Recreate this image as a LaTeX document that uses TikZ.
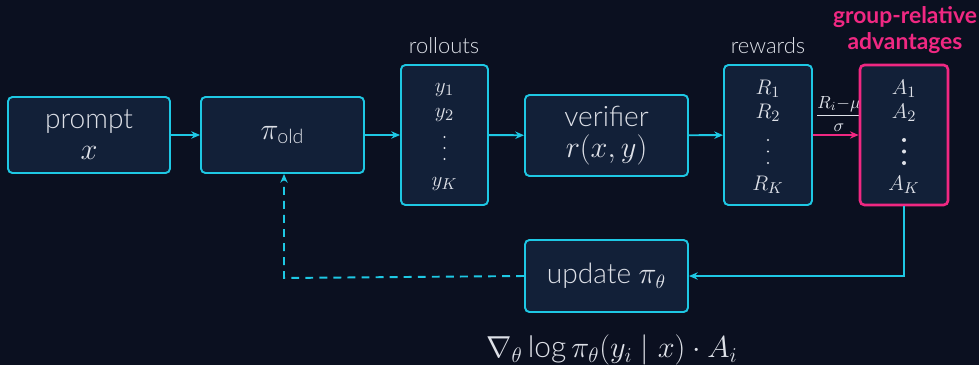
\documentclass[tikz,border=0pt]{standalone}
\usepackage{amsmath}
\usepackage{fontspec}
\setmainfont{Lato Light}[BoldFont=Lato Bold]
\usetikzlibrary{arrows.meta}
\definecolor{bgnavy}{RGB}{11,16,32}
\definecolor{boxfill}{RGB}{18,32,56}
\definecolor{cyanline}{RGB}{30,200,228}
\definecolor{pinkline}{RGB}{240,40,130}
\definecolor{txt}{RGB}{222,225,232}
\tikzset{
  flowbox/.style={draw=cyanline, fill=boxfill, line width=1.1pt, rounded corners=2.5pt,
    inner sep=0pt, align=center, text=txt},
  advbox/.style={flowbox, draw=pinkline, line width=1.5pt},
  bigtxt/.style={font=\fontsize{16}{17.6}\selectfont},
  item/.style={text=txt, font=\fontsize{13}{14}\selectfont, anchor=base, inner sep=0pt},
  captxt/.style={text=txt, font=\fontsize{12.5}{14}\selectfont},
  flow/.style={draw=cyanline, line width=1.1pt, -{Stealth[length=5pt,width=4.2pt]}},
}
\begin{document}
\begin{tikzpicture}[x=0.02cm, y=-0.02cm]
  \fill[bgnavy] (0,0) rectangle (979,365);
  \useasboundingbox (0,0) rectangle (979,365);

  % pipeline boxes
  \node[flowbox, bigtxt, minimum width=3.24cm, minimum height=1.52cm] (prompt) at (89,135)
    {prompt\\$x$};
  \node[flowbox, bigtxt, minimum width=3.26cm, minimum height=1.52cm] (piold) at (282.5,135)
    {$\pi_{\text{old}}$};
  \node[flowbox, minimum width=1.74cm, minimum height=2.8cm] (roll) at (444.5,135) {};
  \node[flowbox, bigtxt, minimum width=3.26cm, minimum height=1.62cm] (verif) at (606.5,135.5)
    {verifier\\$r(x,y)$};
  \node[flowbox, minimum width=1.76cm, minimum height=2.8cm] (rew) at (768,135) {};

  % normalisation label, partly tucked under the advantage box
  \node[text=txt, font=\fontsize{10}{11}\selectfont, inner sep=0pt] (normlab) at (839,114)
    {$\displaystyle\frac{R_i{-}\mu}{\sigma}$};

  \node[advbox, minimum width=1.76cm, minimum height=2.8cm] (adv) at (904,135) {};
  \node[flowbox, bigtxt, minimum width=3.26cm, minimum height=1.44cm] (upd) at (606.5,276)
    {update $\pi_\theta$};

  % rollout samples
  \node[item] (y1) at (444.5,92) {$y_1$};
  \node[item] (y2) at (444.5,117) {$y_2$};
  \node[item] (yK) at (444.5,186) {$y_K$};
  \foreach \yy in {137,148,159} \fill[txt] (444.5,\yy) circle (0.6pt);

  % rewards
  \node[item] (r1) at (768,94) {$R_1$};
  \node[item] (r2) at (768,118) {$R_2$};
  \node[item] (rK) at (768,190) {$R_K$};
  \foreach \yy in {140,151.5,163} \fill[txt] (768,\yy) circle (0.6pt);

  % advantages
  \node[item] (a1) at (904,94) {$A_1$};
  \node[item] (a2) at (904,118) {$A_2$};
  \node[item] (aK) at (904,190) {$A_K$};
  \foreach \yy in {140,151.5,163} \fill[txt] (904,\yy) circle (1.15pt);

  % captions
  \node[captxt] (rolllab) at (444,46) {rollouts};
  \node[captxt] (rewlab) at (768,46) {rewards};
  \node[text=pinkline, font=\fontsize{13}{14.5}\selectfont\bfseries, align=center]
    (advlab) at (905,30) {group-relative\\advantages};
  \node[text=txt, font=\fontsize{17}{19}\selectfont] (grad) at (612,350)
    {$\nabla_\theta \mathop{\text{log}} \pi_\theta(y_i \mid x)\cdot A_i$};

  % forward flow
  \draw[flow] (prompt) -- (piold);
  \draw[flow] (piold) -- (roll);
  \draw[flow] (roll) -- (verif);
  \draw[flow] (verif) -- (rew);
  \draw[flow, draw=pinkline] (rew) -- (adv);

  % feedback loop
  \draw[flow] (adv.south) |- (upd.east);
  \coordinate (corner) at (284,278);
  \draw[flow, dash pattern=on 4.5pt off 3.5pt] (upd.west) -- (corner) -- (piold.south -| corner);
\end{tikzpicture}
\end{document}
